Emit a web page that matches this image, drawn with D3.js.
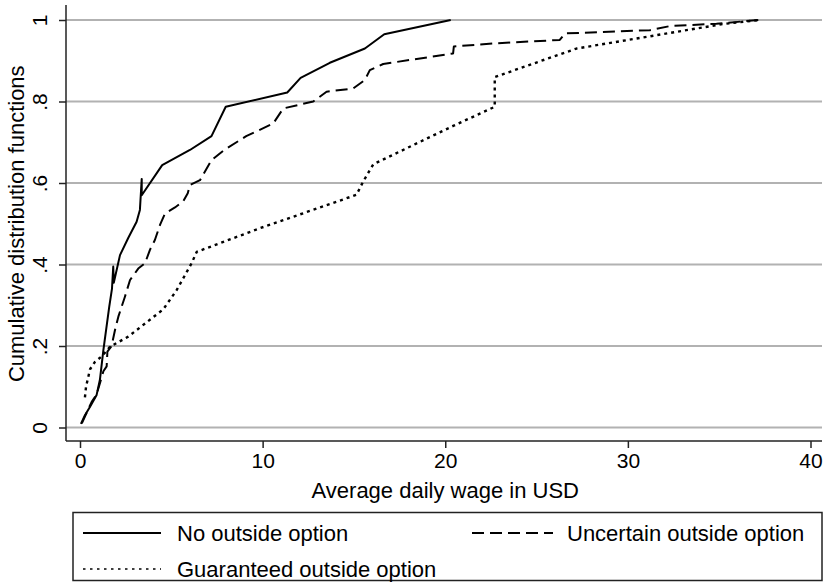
<!DOCTYPE html>
<html>
<head>
<meta charset="utf-8">
<script src="https://cdn.jsdelivr.net/npm/d3@7"></script>
<style>
  html, body { margin: 0; padding: 0; background: #fff; }
  svg { display: block; font-family: "Liberation Sans", Arial, sans-serif; }
</style>
</head>
<body>
<svg id="chart" width="825" height="584"></svg>
<script>
// Empirical CDFs of average daily wage (USD) by outside-option treatment
const noOptWage = [0.05, 0.27, 0.55, 0.91, 1.09, 1.28, 1.6, 1.75, 1.82, 1.85, 2.19, 2.64, 3.1, 3.28, 3.38, 3.38, 4.5, 6.02, 7.2, 7.98, 11.35, 12.08, 13.68, 15.6, 16.66, 20.3];
const noOptCdf  = [0.009, 0.03, 0.051, 0.08, 0.117, 0.19, 0.296, 0.34, 0.395, 0.355, 0.423, 0.465, 0.505, 0.534, 0.61, 0.57, 0.644, 0.681, 0.715, 0.787, 0.822, 0.858, 0.895, 0.93, 0.965, 1.0];

const uncertainWage = [0.1, 0.3, 0.64, 0.9, 1.1, 1.28, 1.46, 1.5, 1.73, 1.92, 2.1, 2.46, 2.74, 3.19, 3.56, 3.83, 4.1, 4.38, 4.65, 5.2, 5.65, 5.9, 6.02, 6.57, 7.2, 7.9, 9.1, 10.58, 11.13, 12.77, 13.5, 14.96, 15.6, 15.87, 16.6, 20.43, 20.47, 22.8, 26.27, 26.55, 31.2, 32.3, 34.85, 37.2];
const uncertainCdf  = [0.01, 0.03, 0.063, 0.08, 0.11, 0.138, 0.15, 0.186, 0.2, 0.24, 0.272, 0.321, 0.362, 0.39, 0.403, 0.436, 0.46, 0.497, 0.525, 0.54, 0.555, 0.575, 0.595, 0.607, 0.656, 0.681, 0.715, 0.746, 0.783, 0.8, 0.824, 0.832, 0.853, 0.877, 0.892, 0.918, 0.935, 0.943, 0.951, 0.967, 0.975, 0.985, 0.991, 1.0];

const guaranteedWage = [0.27, 0.33, 0.55, 0.82, 1.2, 1.64, 2.64, 3.1, 4.56, 5.29, 6.11, 6.39, 9.85, 15.14, 15.5, 16.06, 20.43, 22.71, 22.71, 27.19, 31.2, 35.2, 37.2];
const guaranteedCdf  = [0.074, 0.1, 0.143, 0.161, 0.175, 0.198, 0.223, 0.239, 0.29, 0.337, 0.403, 0.431, 0.489, 0.571, 0.603, 0.646, 0.74, 0.787, 0.86, 0.93, 0.96, 0.99, 1.0];

const seriesNames = ["No outside option", "Uncertain outside option", "Guaranteed outside option"];
const xTickValues = [0, 10, 20, 30, 40];
const yTickValues = [0, 0.2, 0.4, 0.6, 0.8, 1];
const yTickLabels = ["0", ".2", ".4", ".6", ".8", "1"];
const xTitle = "Average daily wage in USD";
const yTitle = "Cumulative distribution functions";

const svg = d3.select("#chart");

// plot region
const region = { left: 66, right: 822, top: 5, bottom: 441 };
const x = d3.scaleLinear().domain([0, 40]).range([80, 810.5]);
const y = d3.scaleLinear().domain([0, 1]).range([427.5, 20]);

// horizontal grid lines
svg.append("g")
  .selectAll("line")
  .data(yTickValues)
  .join("line")
  .attr("x1", region.left)
  .attr("x2", region.right)
  .attr("y1", d => y(d))
  .attr("y2", d => y(d))
  .attr("stroke", "#b2b2b2")
  .attr("stroke-width", 1.8);

// series
const styles = [
  { dash: null, width: 2 },
  { dash: "12,6", width: 2 },
  { dash: "3,4", width: 2.4 }
];
const series = [
  d3.zip(noOptWage, noOptCdf),
  d3.zip(uncertainWage, uncertainCdf),
  d3.zip(guaranteedWage, guaranteedCdf)
];
const line = d3.line().x(d => x(d[0])).y(d => y(d[1]));

svg.append("g")
  .selectAll("path")
  .data(series)
  .join("path")
  .attr("d", line)
  .attr("fill", "none")
  .attr("stroke", "#000")
  .attr("stroke-width", (d, i) => styles[i].width)
  .attr("stroke-dasharray", (d, i) => styles[i].dash)
  .attr("stroke-linejoin", "round");

// axes
const axisColor = "#222";
const yAxis = svg.append("g")
  .attr("transform", `translate(${region.left},0)`)
  .call(d3.axisLeft(y).tickValues(yTickValues).tickFormat((d, i) => yTickLabels[i]).tickSize(7).tickPadding(0));
yAxis.select(".domain").remove();
yAxis.selectAll(".tick line").attr("stroke", axisColor).attr("stroke-width", 1.5);
yAxis.selectAll(".tick text")
  .attr("transform", "rotate(-90)")
  .attr("text-anchor", "middle")
  .attr("x", 0)
  .attr("y", -26)
  .attr("dy", "0.35em")
  .attr("font-size", 21)
  .attr("font-family", "Liberation Sans, Arial, sans-serif")
  .attr("fill", "#000");

const xAxis = svg.append("g")
  .attr("transform", `translate(0,${region.bottom})`)
  .call(d3.axisBottom(x).tickValues(xTickValues).tickFormat(d3.format("d")).tickSize(7).tickPadding(5));
xAxis.select(".domain").remove();
xAxis.selectAll(".tick line").attr("stroke", axisColor).attr("stroke-width", 1.5);
xAxis.selectAll(".tick text")
  .attr("font-size", 21)
  .attr("font-family", "Liberation Sans, Arial, sans-serif")
  .attr("fill", "#000");

// axis lines
svg.append("line")
  .attr("x1", region.left).attr("x2", region.left)
  .attr("y1", region.top).attr("y2", region.bottom)
  .attr("stroke", axisColor).attr("stroke-width", 1.5);
svg.append("line")
  .attr("x1", region.left).attr("x2", region.right)
  .attr("y1", region.bottom).attr("y2", region.bottom)
  .attr("stroke", axisColor).attr("stroke-width", 1.5);

// axis titles
svg.append("text")
  .attr("x", x(20))
  .attr("y", 498)
  .attr("text-anchor", "middle")
  .attr("font-size", 22)
  .text(xTitle);

svg.append("text")
  .attr("transform", `translate(24,${(y(0) + y(1)) / 2}) rotate(-90)`)
  .attr("text-anchor", "middle")
  .attr("font-size", 22)
  .text(yTitle);

// legend
const legend = svg.append("g");
legend.append("rect")
  .attr("x", 73).attr("y", 512.5)
  .attr("width", 749).attr("height", 68)
  .attr("fill", "#fff")
  .attr("stroke", axisColor)
  .attr("stroke-width", 1.5);

const legendPos = [
  { x: 83, y: 533 },
  { x: 472, y: 533 },
  { x: 83, y: 569 }
];
const legendItems = legend.selectAll("g.item")
  .data(seriesNames)
  .join("g")
  .attr("class", "item")
  .attr("transform", (d, i) => `translate(${legendPos[i].x},${legendPos[i].y})`);

legendItems.append("line")
  .attr("x1", 0)
  .attr("x2", (d, i) => i === 1 ? 81 : 78)
  .attr("y1", 0).attr("y2", 0)
  .attr("stroke", "#000")
  .attr("stroke-width", (d, i) => i === 2 ? 1.6 : 2)
  .attr("stroke-dasharray", (d, i) => i === 2 ? "2.5,4.5" : styles[i].dash);

legendItems.append("text")
  .attr("x", (d, i) => i === 1 ? 95 : 94)
  .attr("y", 0)
  .attr("dy", "0.35em")
  .attr("font-size", 22)
  .text(d => d);
</script>
</body>
</html>
